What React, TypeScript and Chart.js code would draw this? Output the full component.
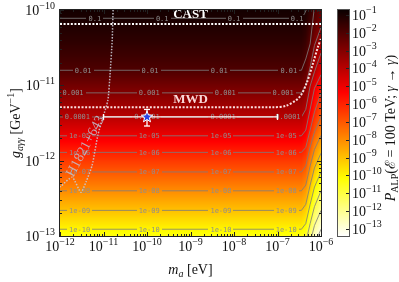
import React, { useEffect, useRef } from 'react';
import { Chart, registerables } from 'chart.js';
Chart.register(...registerables);

const W = 399;
const H = 282;

// ---- axes ----
const X_RANGE = [1e-12, 1e-6];
const Y_RANGE = [1e-13, 1e-10];
const CB_LOG_RANGE = [-13.4, -0.72];
const xTickExps = [-12, -11, -10, -9, -8, -7, -6];
const yTickExps = [-13, -12, -11, -10];
const cbTickExps = [-1, -2, -3, -4, -5, -6, -7, -8, -9, -10, -11, -12, -13];

// ---- heat map (log10 P) ----
const gridLogM = [-12, -6.45, -6.35, -6.25, -6.15, -6.0];
const gridLogG = [-10.0, -10.2, -10.4, -10.6, -10.8, -11.0, -11.2, -11.4, -11.6, -11.8, -12.0, -12.2, -12.4, -12.6, -12.8, -13.0];
const gridLogP = [
  [-0.9, -0.9, -1.0, -1.4, -1.9, -2.4],
  [-1.1, -1.1, -1.25, -1.7, -2.3, -2.9],
  [-1.35, -1.35, -1.55, -2.1, -2.8, -3.5],
  [-1.65, -1.65, -1.9, -2.6, -3.4, -4.1],
  [-2.0, -2.0, -2.3, -3.1, -3.9, -4.7],
  [-2.67, -2.67, -2.97, -3.97, -4.87, -5.67],
  [-3.31, -3.31, -3.61, -4.61, -5.51, -6.31],
  [-3.94, -3.94, -4.24, -5.24, -6.14, -6.94],
  [-4.72, -4.72, -5.02, -6.02, -6.92, -7.72],
  [-5.59, -5.59, -5.89, -6.89, -7.79, -8.59],
  [-6.42, -6.42, -6.72, -7.72, -8.62, -9.42],
  [-7.2, -7.2, -7.5, -8.5, -9.4, -10.2],
  [-8.0, -8.0, -8.3, -9.3, -10.2, -11.0],
  [-8.77, -8.77, -9.07, -10.07, -10.97, -11.77],
  [-9.56, -9.56, -9.86, -10.86, -11.76, -12.56],
  [-10.36, -10.36, -10.66, -11.66, -12.56, -13.36],
];

// ---- contours ([log10 m, log10 g]) ----
const contourLabels = ['0.1', '0.01', '0.001', '0.0001', '1e-05', '1e-06', '1e-07', '1e-08', '1e-09', '1e-10'];
const contourPaths = [
  [[-12, -10.11], [-6.45, -10.11], [-6.38, -10.05], [-6.34, -10.0]],
  [[-12, -10.8], [-6.45, -10.8], [-6.35, -10.65], [-6.25, -10.45], [-6.16, -10.0]],
  [[-12, -11.1], [-6.45, -11.1], [-6.35, -11.0], [-6.25, -10.76], [-6.15, -10.47], [-6.0, -10.23]],
  [[-12, -11.42], [-6.45, -11.42], [-6.35, -11.32], [-6.25, -11.01], [-6.15, -10.82], [-6.0, -10.57]],
  [[-12, -11.67], [-6.45, -11.67], [-6.35, -11.595], [-6.25, -11.32], [-6.15, -11.04], [-6.0, -10.86]],
  [[-12, -11.89], [-6.45, -11.89], [-6.35, -11.825], [-6.25, -11.595], [-6.15, -11.355], [-6.0, -11.1]],
  [[-12, -12.15], [-6.45, -12.15], [-6.35, -12.07], [-6.25, -11.82], [-6.15, -11.62], [-6.0, -11.42]],
  [[-12, -12.4], [-6.45, -12.4], [-6.35, -12.325], [-6.25, -12.07], [-6.15, -11.85], [-6.0, -11.665]],
  [[-12, -12.66], [-6.45, -12.66], [-6.35, -12.58], [-6.25, -12.325], [-6.15, -12.095], [-6.0, -11.9]],
  [[-12, -12.91], [-6.45, -12.91], [-6.35, -12.835], [-6.25, -12.58], [-6.15, -12.35], [-6.0, -12.15]],
  [[-6.316, -13], [-6.25, -12.835], [-6.15, -12.61], [-6.0, -12.4]],
  [[-6.212, -13], [-6.15, -12.86], [-6.0, -12.66]],
  [[-6.0675, -13], [-6.0, -12.91]],
];
const contourLabelLogM = [
  [-11.2, -9.65, -8.0, -6.55],
  [-11.47, -9.93, -8.34, -6.74],
  [-11.7, -9.95, -8.2, -6.87],
  [-11.6, -10.0, -8.25, -6.76],
  [-11.55, -9.95, -8.3, -6.8],
  [-11.55, -9.95, -8.3, -6.8],
  [-11.55, -9.95, -8.3, -6.8],
  [-11.55, -9.95, -8.3, -6.8],
  [-11.55, -9.95, -8.3, -6.8],
  [-11.55, -9.95, -8.3, -6.8],
];

// ---- limits ----
const castPath = [[-12, -10.186], [-6, -10.186]];
const mwdPath = [[-12, -11.29], [-7.1, -11.29], [-6.8, -11.27], [-6.5, -11.16], [-6.33, -10.97], [-6.18, -10.7], [-6.07, -10.49], [-6.0, -10.38]];
const h1821Path = [[-10.78, -10.0], [-10.8, -10.4], [-10.85, -10.86], [-10.9, -11.2], [-11.01, -11.42], [-11.13, -11.66], [-11.26, -12.06], [-11.4, -12.28], [-11.52, -12.42], [-11.72, -12.22], [-11.98, -12.34], [-12.0, -12.35]];

// ---- best-fit point ----
const starLogM = -10.0;
const starLogG = -11.42;
const starErrLogM = [-11.0, -7.0];
const starErrLogG = [-11.54, -11.32];

const SERIF = '"Liberation Serif", "DejaVu Serif", serif';
const F_TICK = `14px ${SERIF}`;
const F_SUP = `10px ${SERIF}`;
const F_TITLE = `14px ${SERIF}`;
const F_TITLE_I = `italic 14px ${SERIF}`;
const F_SUB_I = `italic 10px ${SERIF}`;
const F_SUB = `10px ${SERIF}`;
const F_CLABEL = `7px "DejaVu Sans Mono", monospace`;

const FIRST_CONTOUR = 6;

const toXY = (p: number[][]) => p.map(([m, g]) => ({ x: Math.pow(10, m), y: Math.pow(10, g) }));

function bracket(arr: number[], v: number): [number, number] {
  const n = arr.length;
  const asc = arr[n - 1] > arr[0];
  for (let i = 0; i < n - 1; i++) {
    const a = arr[i], b = arr[i + 1];
    if ((asc && v >= a && v <= b) || (!asc && v <= a && v >= b)) return [i, (v - a) / (b - a)];
  }
  if (asc ? v < arr[0] : v > arr[0]) return [0, 0];
  return [n - 2, 1];
}

function hotR(logP: number): number[] {
  let t = (logP - CB_LOG_RANGE[0]) / (CB_LOG_RANGE[1] - CB_LOG_RANGE[0]);
  t = Math.max(0, Math.min(1, t));
  const h = 1 - t;
  const r = h < 0.365079 ? 0.0416 + (1 - 0.0416) * h / 0.365079 : 1;
  const g = h < 0.365079 ? 0 : h < 0.746032 ? (h - 0.365079) / (0.746032 - 0.365079) : 1;
  const b = h < 0.746032 ? 0 : (h - 0.746032) / (1 - 0.746032);
  return [Math.round(r * 255), Math.round(g * 255), Math.round(b * 255)];
}

type Seg = { t: string; f: string; dy?: number };
function drawRich(ctx: CanvasRenderingContext2D, segs: Seg[], x: number, y: number, align: 'left' | 'center' | 'right') {
  let total = 0;
  const ws = segs.map((s) => { ctx.font = s.f; const w = ctx.measureText(s.t).width; total += w; return w; });
  let cx = align === 'left' ? x : align === 'center' ? x - total / 2 : x - total;
  ctx.textAlign = 'left';
  ctx.textBaseline = 'alphabetic';
  segs.forEach((s, i) => { ctx.font = s.f; ctx.fillText(s.t, cx, y + (s.dy || 0)); cx += ws[i]; });
}
function drawPow(ctx: CanvasRenderingContext2D, e: number, x: number, y: number, align: 'left' | 'center' | 'right') {
  drawRich(ctx, [{ t: '10', f: F_TICK }, { t: (e < 0 ? '\u2212' : '') + Math.abs(e), f: F_SUP, dy: -6.5 }], x, y, align);
}

function makeStar() {
  const c = document.createElement('canvas');
  c.width = 14; c.height = 14;
  const g = c.getContext('2d')!;
  g.beginPath();
  for (let i = 0; i < 10; i++) {
    const r = i % 2 ? 2.5 : 6;
    const ang = -Math.PI / 2 + (i * Math.PI) / 5;
    g.lineTo(7 + r * Math.cos(ang), 7 + r * Math.sin(ang));
  }
  g.closePath();
  g.fillStyle = '#2b45e6';
  g.fill();
  g.strokeStyle = '#ffffff';
  g.lineWidth = 1;
  g.stroke();
  return c;
}

const heatPlugin = {
  id: 'heat',
  beforeDatasetsDraw(chart: any) {
    const { ctx, chartArea: a, scales } = chart;
    const xs = scales.x, ys = scales.y;
    const x0 = Math.round(a.left), y0 = Math.round(a.top);
    const w = Math.round(a.right) - x0, h = Math.round(a.bottom) - y0;
    const img = ctx.createImageData(w, h);
    const colI: number[] = [], colF: number[] = [];
    for (let i = 0; i < w; i++) {
      const lm = Math.log10(xs.getValueForPixel(x0 + i + 0.5));
      const [k, f] = bracket(gridLogM, lm);
      colI.push(k); colF.push(f);
    }
    for (let j = 0; j < h; j++) {
      const lg = Math.log10(ys.getValueForPixel(y0 + j + 0.5));
      const [r, fr] = bracket(gridLogG, lg);
      const row0 = gridLogP[r], row1 = gridLogP[r + 1];
      for (let i = 0; i < w; i++) {
        const k = colI[i], f = colF[i];
        const v0 = row0[k] + (row0[k + 1] - row0[k]) * f;
        const v1 = row1[k] + (row1[k + 1] - row1[k]) * f;
        const c = hotR(v0 + (v1 - v0) * fr);
        const p = (j * w + i) * 4;
        img.data[p] = c[0]; img.data[p + 1] = c[1]; img.data[p + 2] = c[2]; img.data[p + 3] = 255;
      }
    }
    ctx.putImageData(img, x0, y0);
    chart.$heat = { img, x0, y0 };
  },
  afterDatasetDraw(chart: any, args: any) {
    if (args.index !== FIRST_CONTOUR) return;
    const { ctx, scales } = chart;
    const xs = scales.x, ys = scales.y;
    const hm = chart.$heat;
    ctx.save();
    ctx.font = F_CLABEL;
    ctx.fillStyle = '#8e8e8e';
    ctx.textAlign = 'center';
    ctx.textBaseline = 'middle';
    contourLabels.forEach((lab, i) => {
      const py = ys.getPixelForValue(Math.pow(10, contourPaths[i][0][1]));
      const tw = ctx.measureText(lab).width;
      contourLabelLogM[i].forEach((lm) => {
        const px = xs.getPixelForValue(Math.pow(10, lm));
        const rx = Math.round(px - tw / 2 - 2), ry = Math.round(py - 3);
        const rw = Math.round(tw + 4), rh = 6;
        ctx.putImageData(hm.img, hm.x0, hm.y0, rx - hm.x0, ry - hm.y0, rw, rh);
        ctx.fillText(lab, px, py + 0.5);
      });
    });
    ctx.restore();
  },
  afterDraw(chart: any) {
    const { ctx, chartArea: a, scales } = chart;
    const xs = scales.x, ys = scales.y, cb = scales.cb;
    ctx.save();
    // annotation texts
    ctx.textAlign = 'center';
    ctx.textBaseline = 'middle';
    ctx.font = `bold 13px ${SERIF}`;
    ctx.fillStyle = '#ffffff';
    ctx.fillText('CAST', xs.getPixelForValue(1e-9), ys.getPixelForValue(Math.pow(10, -10.068)));
    ctx.fillStyle = 'rgba(255,228,228,0.95)';
    ctx.fillText('MWD', xs.getPixelForValue(1e-9), ys.getPixelForValue(Math.pow(10, -11.19)));
    ctx.save();
    ctx.translate(xs.getPixelForValue(Math.pow(10, -11.41)), ys.getPixelForValue(Math.pow(10, -11.81)));
    ctx.rotate(-62 * Math.PI / 180);
    ctx.font = `14px ${SERIF}`;
    ctx.fillStyle = 'rgba(190,195,210,0.85)';
    ctx.fillText('H1821+643', 0, 0);
    ctx.restore();

    // frame
    ctx.strokeStyle = '#222';
    ctx.lineWidth = 1;
    ctx.strokeRect(a.left - 0.5, a.top - 0.5, a.right - a.left + 1, a.bottom - a.top + 1);
    // ticks inward, all sides
    ctx.beginPath();
    for (let e = -12; e <= -6; e++) {
      for (let n = 1; n <= 9; n++) {
        if (e === -6 && n > 1) break;
        const px = Math.round(xs.getPixelForValue(n * Math.pow(10, e))) + 0.5;
        const L = n === 1 ? 4 : 2;
        ctx.moveTo(px, a.bottom); ctx.lineTo(px, a.bottom - L);
        ctx.moveTo(px, a.top); ctx.lineTo(px, a.top + L);
      }
    }
    for (let e = -13; e <= -10; e++) {
      for (let n = 1; n <= 9; n++) {
        if (e === -10 && n > 1) break;
        const py = Math.round(ys.getPixelForValue(n * Math.pow(10, e))) + 0.5;
        const L = n === 1 ? 4 : 2;
        ctx.moveTo(a.left, py); ctx.lineTo(a.left + L, py);
        ctx.moveTo(a.right, py); ctx.lineTo(a.right - L, py);
      }
    }
    ctx.stroke();

    // tick labels
    ctx.fillStyle = '#111';
    xTickExps.forEach((e) => drawPow(ctx, e, xs.getPixelForValue(Math.pow(10, e)), a.bottom + 15, 'center'));
    yTickExps.forEach((e) => drawPow(ctx, e, a.left - 5, ys.getPixelForValue(Math.pow(10, e)) + 5, 'right'));

    // axis titles
    drawRich(ctx, [{ t: 'm', f: F_TITLE_I }, { t: 'a', f: F_SUB_I, dy: 3 }, { t: ' [eV]', f: F_TITLE }], (a.left + a.right) / 2, 274, 'center');
    ctx.save();
    ctx.translate(20, (a.top + a.bottom) / 2);
    ctx.rotate(-Math.PI / 2);
    drawRich(ctx, [
      { t: 'g', f: F_TITLE_I }, { t: 'a\u03b3\u03b3', f: F_SUB_I, dy: 3 },
      { t: ' [GeV', f: F_TITLE }, { t: '\u22121', f: F_SUB, dy: -6 }, { t: ']', f: F_TITLE },
    ], 0, 0, 'center');
    ctx.restore();

    // colorbar
    const cbL = a.right + 17, cbR = a.right + 28;
    for (let py = Math.round(a.top); py < Math.round(a.bottom); py++) {
      const c = hotR(Math.log10(cb.getValueForPixel(py + 0.5)));
      ctx.fillStyle = `rgb(${c[0]},${c[1]},${c[2]})`;
      ctx.fillRect(cbL, py, cbR - cbL, 1);
    }
    ctx.strokeStyle = '#555';
    ctx.strokeRect(cbL - 0.5, a.top - 0.5, cbR - cbL + 1, a.bottom - a.top + 1);
    ctx.strokeStyle = '#222';
    ctx.beginPath();
    cbTickExps.forEach((e) => {
      const py = Math.round(cb.getPixelForValue(Math.pow(10, e))) + 0.5;
      ctx.moveTo(cbR, py); ctx.lineTo(cbR - 3, py);
    });
    ctx.stroke();
    ctx.fillStyle = '#111';
    cbTickExps.forEach((e) => drawPow(ctx, e, cbR + 3, cb.getPixelForValue(Math.pow(10, e)) + 5, 'left'));
    ctx.save();
    ctx.translate(395, 128);
    ctx.rotate(-Math.PI / 2);
    drawRich(ctx, [
      { t: 'P', f: F_TITLE_I }, { t: 'ALP', f: F_SUB, dy: 3 }, { t: '(', f: F_TITLE },
      { t: '\u2130', f: F_TITLE }, { t: ' = 100 TeV; ', f: F_TITLE }, { t: '\u03b3', f: F_TITLE_I },
      { t: ' \u2192 ', f: F_TITLE }, { t: '\u03b3', f: F_TITLE_I }, { t: ')', f: F_TITLE },
    ], 0, 0, 'center');
    ctx.restore();
    ctx.restore();
  },
};

export default function App() {
  const ref = useRef<HTMLCanvasElement>(null);
  useEffect(() => {
    document.body.style.margin = '0';
    const canvas = ref.current!;
    const star = makeStar();
    const lineBase = { pointRadius: 0, fill: false, showLine: true };
    const datasets: any[] = [
      { label: 'best fit', data: [{ x: Math.pow(10, starLogM), y: Math.pow(10, starLogG) }], showLine: false, pointStyle: star, pointRadius: 6 },
      {
        label: 'g error', data: starErrLogG.map((g) => ({ x: Math.pow(10, starLogM), y: Math.pow(10, g) })), showLine: true,
        borderColor: '#ffffff', borderWidth: 1.3, pointStyle: 'line', pointRadius: 3, pointBorderColor: '#ffffff', pointBorderWidth: 1.3,
      },
      {
        label: 'm error', data: starErrLogM.map((m) => ({ x: Math.pow(10, m), y: Math.pow(10, starLogG) })), showLine: true,
        borderColor: '#ffffff', borderWidth: 1.3, pointStyle: 'line', pointRotation: 90, pointRadius: 3, pointBorderColor: '#ffffff', pointBorderWidth: 1.3,
      },
      { label: 'CAST', data: toXY(castPath), ...lineBase, borderColor: '#ffffff', borderWidth: 2, borderDash: [2, 1.6] },
      { label: 'MWD', data: toXY(mwdPath), ...lineBase, borderColor: 'rgba(255,235,235,0.95)', borderWidth: 2, borderDash: [2, 1.6], tension: 0.3 },
      { label: 'H1821+643', data: toXY(h1821Path), ...lineBase, borderColor: 'rgba(200,200,210,0.9)', borderWidth: 1.5, borderDash: [1.5, 1.5], tension: 0.2 },
      ...contourPaths.map((p, i) => ({
        label: 'contour ' + (contourLabels[i] || i), data: toXY(p), ...lineBase, borderColor: 'rgba(125,125,125,0.9)', borderWidth: 0.9,
      })),
    ];
    const chart = new Chart(canvas, {
      type: 'line',
      data: { datasets },
      plugins: [heatPlugin],
      options: {
        animation: false,
        responsive: false,
        devicePixelRatio: 1,
        events: [],
        layout: { padding: { left: 60, top: 10, right: W - 321, bottom: H - 236 } },
        plugins: { legend: { display: false }, tooltip: { enabled: false } },
        scales: {
          x: { type: 'logarithmic', min: X_RANGE[0], max: X_RANGE[1], display: false },
          y: { type: 'logarithmic', min: Y_RANGE[0], max: Y_RANGE[1], display: false },
          cb: { type: 'logarithmic', axis: 'y', position: 'right', min: Math.pow(10, CB_LOG_RANGE[0]), max: Math.pow(10, CB_LOG_RANGE[1]), display: false },
        },
      } as any,
    });
    return () => chart.destroy();
  }, []);
  return (
    <div style={{ width: W, height: H }}>
      <canvas ref={ref} width={W} height={H} style={{ display: 'block', width: W, height: H }} />
    </div>
  );
}
